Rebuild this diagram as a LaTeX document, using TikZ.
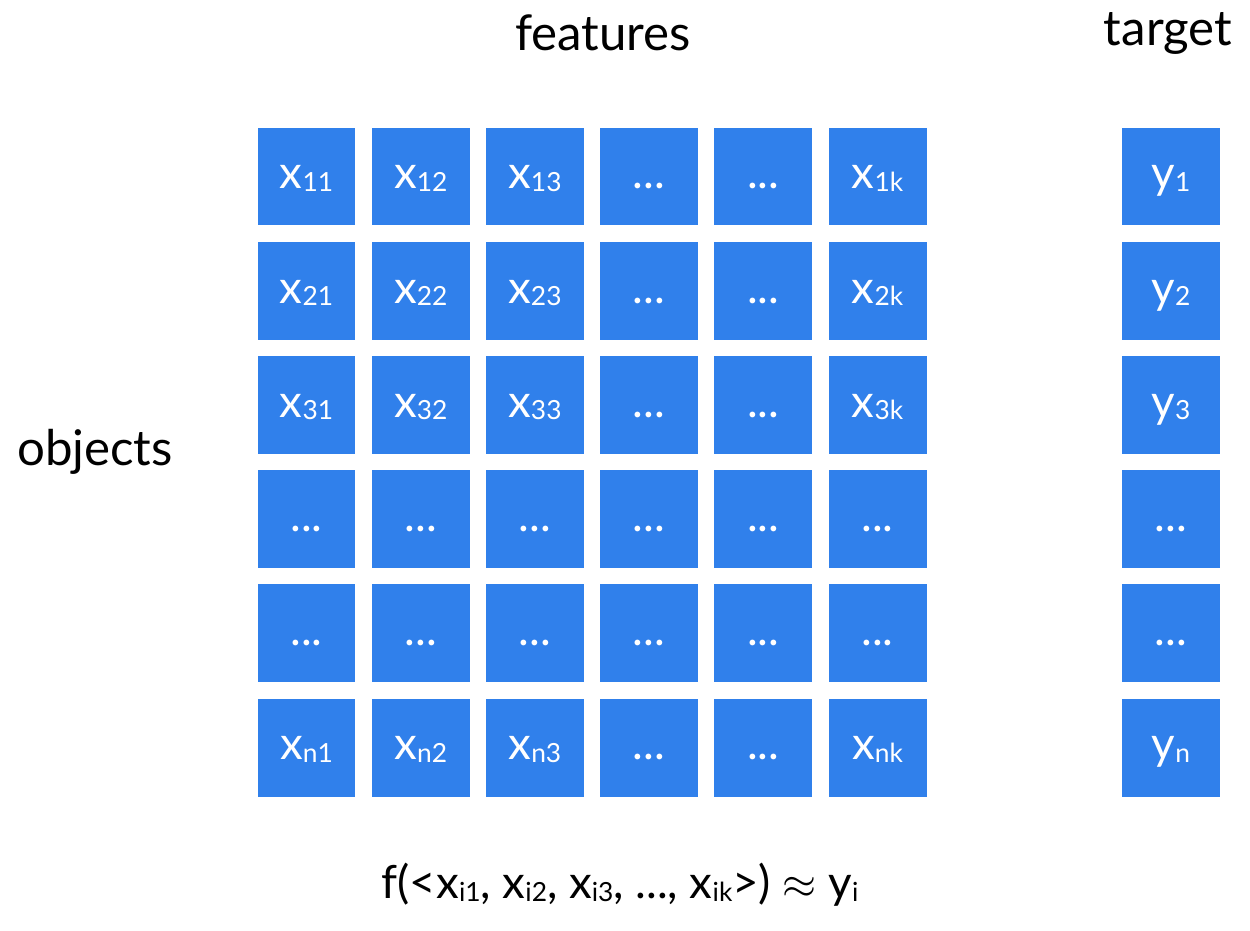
\documentclass[tikz,border=0pt]{standalone}
\usepackage{fontspec}
\setmainfont{Lato}
\definecolor{cellblue}{RGB}{48,128,235}
\newcommand{\subtxt}[1]{\raisebox{-0.1ex}{\fontsize{15}{15}\selectfont #1}}
\newcommand{\xs}[1]{x\subtxt{#1}}
\newcommand{\ys}[1]{y\subtxt{#1}}
\newcommand{\celldots}{...}
\tikzset{
  cell/.style={rectangle, fill=cellblue, text=white, inner sep=0pt,
    minimum size=1.96cm, text height=14pt, text depth=0pt,
    font=\fontsize{26}{30}\selectfont},
  caption/.style={font=\fontsize{28}{34}\selectfont}
}
\begin{document}
\begin{tikzpicture}[x=0.02cm, y=-0.02cm]
    \useasboundingbox (0,0) rectangle (1250,930);
    % feature matrix
    \foreach \i/\r in {1/1,2/2,3/3,6/n} {
        \foreach \j/\s in {1/1,2/2,3/3,6/k}
            \node[cell] (x\i\j) at ({306.5+114.2*(\j-1)},{176.5+114.2*(\i-1)}) {\xs{\r\s}};
        \foreach \j in {4,5}
            \node[cell] (x\i\j) at ({306.5+114.2*(\j-1)},{176.5+114.2*(\i-1)}) {\celldots};
    }
    \foreach \i in {4,5}
        \foreach \j in {1,2,3,4,5,6}
            \node[cell] (x\i\j) at ({306.5+114.2*(\j-1)},{176.5+114.2*(\i-1)}) {\celldots};
    % target column
    \foreach \i/\t in {1/\ys{1},2/\ys{2},3/\ys{3},4/\celldots,5/\celldots,6/\ys{n}}
        \node[cell] (y\i) at (1171,{176.5+114.2*(\i-1)}) {\t};
    % captions
    \node[caption] (features) at (603,33) {features};
    \node[caption] (target) at (1168,33) {target};
    \node[caption] (objects) at (95,452) {objects};
    \node[caption, font=\fontsize{26}{30}\selectfont] (formula) at (620,885) {f(<\xs{i1}, \xs{i2}, \xs{i3}, \celldots, \xs{ik}>) $\approx$ \ys{i}};
\end{tikzpicture}
\end{document}
